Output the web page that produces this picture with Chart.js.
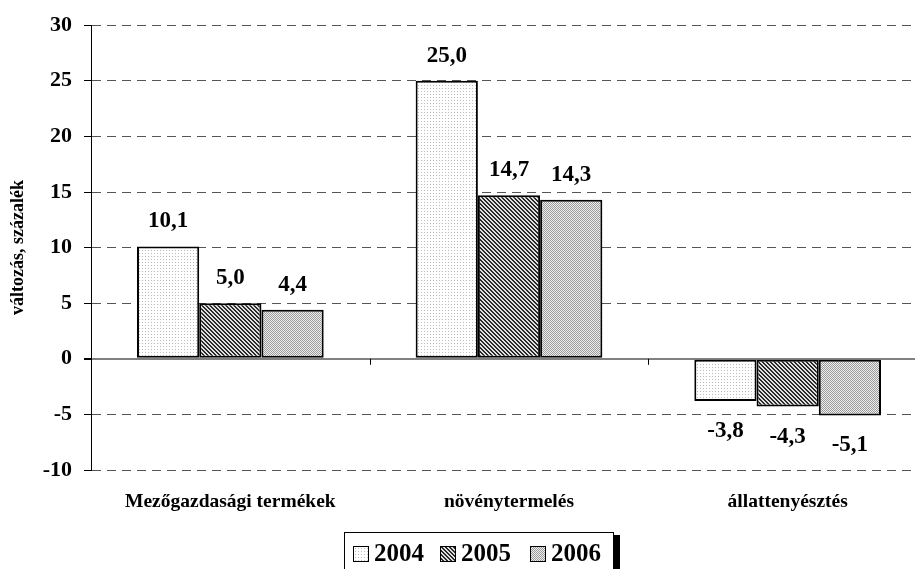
<!DOCTYPE html>
<html>
<head>
<meta charset="utf-8">
<script src="https://cdn.jsdelivr.net/npm/chart.js@4.4.0/dist/chart.umd.min.js"></script>
<style>
  html, body { margin: 0; padding: 0; background: #fff; overflow: hidden; }
  #wrap { position: relative; width: 915px; height: 569px; overflow: hidden; }
  #chart { position: absolute; left: 0; top: 0; }
  .legend {
    position: absolute; left: 344px; top: 532px; width: 268px; height: 40px;
    border: 1px solid #000; background: #fff; box-shadow: 6px 3px 0 #000;
    font: bold 25px "Liberation Serif", "Times New Roman", serif; color: #000;
  }
  .legend .item { position: absolute; top: 5px; height: 30px; line-height: 30px; }
  .legend canvas { position: absolute; top: 8px; left: 0; border: 1px solid #000; }
  .legend span { position: absolute; left: 21px; top: 0; }
</style>
</head>
<body>
<div id="wrap">
  <canvas id="chart" width="930" height="569"></canvas>
  <div class="legend" id="legend"></div>
</div>
<script>
// Data
const categories = ['Mezőgazdasági termékek', 'növénytermelés', 'állattenyésztés'];
const years = ['2004', '2005', '2006'];
const values2004 = [10.1, 25.0, -3.8];
const values2005 = [5.0, 14.7, -4.3];
const values2006 = [4.4, 14.3, -5.1];
const yTicks = [-10, -5, 0, 5, 10, 15, 20, 25, 30];

const serif = '"Liberation Serif", "Times New Roman", serif';

// Fill patterns like the old Excel ones
function makePattern(type) {
    const c = document.createElement('canvas');
    const ctx = c.getContext('2d');
    if (type === 0) {
        c.width = 3; c.height = 3;
        ctx.fillStyle = '#fff'; ctx.fillRect(0, 0, 3, 3);
        ctx.fillStyle = '#bbb'; ctx.fillRect(1, 1, 1, 1);
    } else if (type === 1) {
        c.width = 4; c.height = 4;
        ctx.fillStyle = '#e0e0e0'; ctx.fillRect(0, 0, 4, 4);
        ctx.fillStyle = '#2a2a2a';
        for (let i = 0; i < 4; i++) {
            ctx.fillRect(i, i, 1, 1);
            ctx.fillRect((i + 1) % 4, i, 1, 1);
        }
    } else {
        c.width = 2; c.height = 2;
        ctx.fillStyle = '#eee'; ctx.fillRect(0, 0, 2, 2);
        ctx.fillStyle = '#9a9a9a'; ctx.fillRect(0, 0, 1, 1); ctx.fillRect(1, 1, 1, 1);
    }
    return document.getElementById('chart').getContext('2d').createPattern(c, 'repeat');
}
const patterns = [makePattern(0), makePattern(1), makePattern(2)];

// Value labels + category ticks on the zero line
const valueLabels = {
    id: 'valueLabels',
    afterDatasetsDraw(chart) {
        const ctx = chart.ctx;
        const x = chart.scales.x, y = chart.scales.y;
        ctx.save();
        // small ticks between categories on the zero line
        const y0 = y.getPixelForValue(0);
        ctx.strokeStyle = '#000';
        ctx.lineWidth = 1;
        for (let i = 1; i < categories.length; i++) {
            const px = Math.round((x.getPixelForValue(i - 1) + x.getPixelForValue(i)) / 2) + 0.5;
            ctx.beginPath();
            ctx.moveTo(px, y0);
            ctx.lineTo(px, y0 + 6);
            ctx.stroke();
        }
        ctx.font = 'bold 23px ' + serif;
        ctx.fillStyle = '#000';
        ctx.textAlign = 'center';
        ctx.textBaseline = 'middle';
        chart.data.datasets.forEach((ds, di) => {
            chart.getDatasetMeta(di).data.forEach((bar, i) => {
                const v = ds.data[i];
                const txt = v.toFixed(1).replace('.', ',');
                const ly = v >= 0 ? bar.y - 25 : bar.y + 30;
                ctx.fillText(txt, bar.x, ly);
            });
        });
        ctx.restore();
    }
};

const chart = new Chart(document.getElementById('chart'), {
    type: 'bar',
    data: {
        labels: categories,
        datasets: [
            { label: years[0], data: values2004, backgroundColor: patterns[0] },
            { label: years[1], data: values2005, backgroundColor: patterns[1] },
            { label: years[2], data: values2006, backgroundColor: patterns[2] }
        ].map(d => Object.assign(d, {
            borderColor: '#000',
            borderWidth: 2,
            borderSkipped: false,
            categoryPercentage: 0.67,
            barPercentage: 1.0
        }))
    },
    options: {
        responsive: false,
        devicePixelRatio: 1,
        animation: false,
        layout: { padding: { top: 24, left: 0, right: 3, bottom: 0 } },
        plugins: {
            legend: { display: false },
            tooltip: { enabled: false }
        },
        scales: {
            y: {
                min: -10,
                max: 30,
                afterBuildTicks: scale => { scale.ticks = yTicks.map(v => ({ value: v })); },
                afterFit: scale => { scale.width = 91; },
                ticks: {
                    color: '#000',
                    font: { family: serif, size: 22, weight: 'bold' },
                    padding: 12
                },
                grid: {
                    color: ctx => ctx.tick && ctx.tick.value === 0 ? '#808080' : '#555',
                    lineWidth: ctx => ctx.tick && ctx.tick.value === 0 ? 2 : 1,
                    tickColor: '#000',
                    tickLength: 7
                },
                border: {
                    display: true,
                    color: '#000',
                    width: 1,
                    dash: ctx => ctx.tick && ctx.tick.value === 0 ? [] : [9, 6]
                },
                title: {
                    display: true,
                    text: 'változás, százalék',
                    color: '#000',
                    font: { family: serif, size: 18, weight: 'bold' },
                    padding: { top: 8, bottom: 4 }
                }
            },
            x: {
                afterFit: scale => { scale.height = 99; },
                grid: { display: false, drawTicks: false },
                border: { display: false },
                ticks: {
                    color: '#000',
                    font: { family: serif, size: 19.5, weight: 'bold' },
                    padding: 20
                }
            }
        }
    },
    plugins: [valueLabels]
});

// Legend with the same patterns
const legend = document.getElementById('legend');
const legendLeft = [8, 95, 185];
years.forEach((yr, i) => {
    const item = document.createElement('div');
    item.className = 'item';
    item.style.left = legendLeft[i] + 'px';
    const sw = document.createElement('canvas');
    sw.width = 14; sw.height = 14;
    const sctx = sw.getContext('2d');
    sctx.fillStyle = patterns[i];
    sctx.fillRect(0, 0, 14, 14);
    const label = document.createElement('span');
    label.textContent = yr;
    item.appendChild(sw);
    item.appendChild(label);
    legend.appendChild(item);
});
</script>
</body>
</html>
